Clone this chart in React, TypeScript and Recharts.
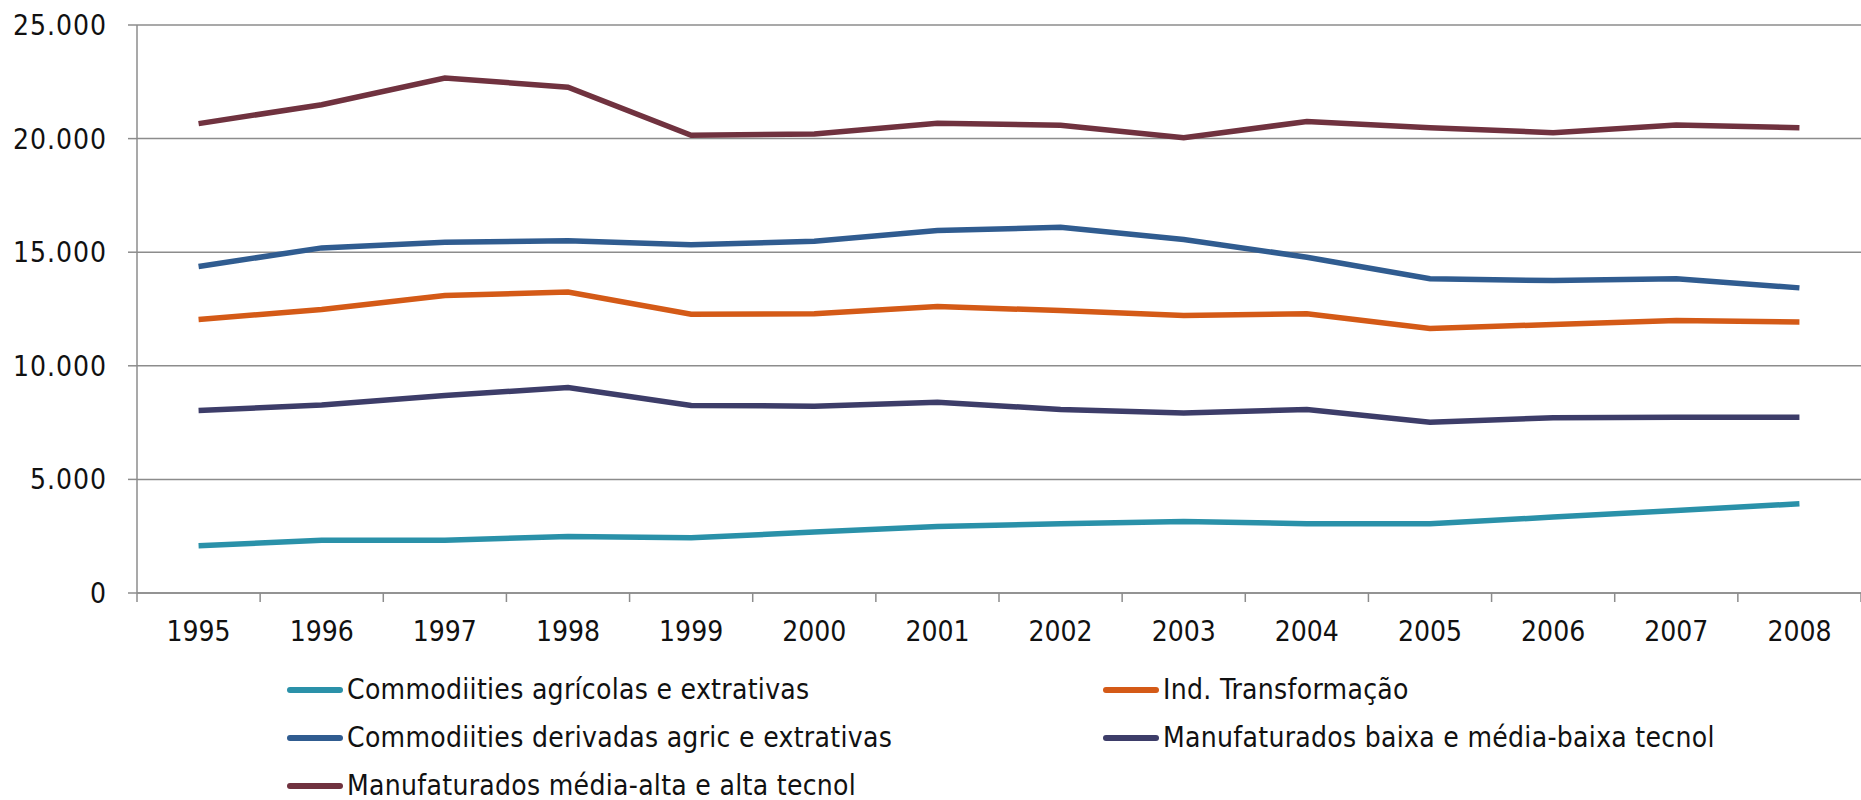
import { LineChart, Line, XAxis, YAxis, CartesianGrid } from 'recharts';

const years = [1995, 1996, 1997, 1998, 1999, 2000, 2001, 2002, 2003, 2004, 2005, 2006, 2007, 2008];

const agricolas = [2080, 2320, 2320, 2490, 2430, 2680, 2930, 3050, 3150, 3050, 3050, 3340, 3630, 3930];
const transformacao = [12040, 12480, 13090, 13250, 12270, 12290, 12610, 12430, 12210, 12290, 11640, 11820, 11990, 11930];
const derivadas = [14370, 15190, 15440, 15500, 15330, 15480, 15950, 16100, 15560, 14780, 13830, 13750, 13830, 13430];
const baixaTec = [8030, 8270, 8690, 9040, 8255, 8225, 8400, 8080, 7920, 8080, 7520, 7710, 7740, 7730];
const altaTec = [20660, 21490, 22670, 22260, 20150, 20200, 20680, 20590, 20040, 20750, 20480, 20260, 20600, 20480];

const yTicks = [0, 5000, 10000, 15000, 20000, 25000];

const series = [
  { key: 'agricolas', name: 'Commodiities agrícolas e extrativas', color: '#2a91a9', values: agricolas },
  { key: 'transformacao', name: 'Ind. Transformação', color: '#d45a17', values: transformacao },
  { key: 'derivadas', name: 'Commodiities derivadas agric e extrativas', color: '#305c90', values: derivadas },
  { key: 'baixaTec', name: 'Manufaturados baixa e média-baixa tecnol', color: '#3d3d69', values: baixaTec },
  { key: 'altaTec', name: 'Manufaturados média-alta e alta tecnol', color: '#70323f', values: altaTec },
];

const data = years.map((year, i) => {
  const row: Record<string, number> = { year };
  series.forEach((s) => {
    row[s.key] = s.values[i];
  });
  return row;
});

// year labels sit on category centres, tick marks on the boundaries between them
const xTicks = [1994.5, ...years.flatMap((y) => [y, y + 0.5])];

const FONT = '"DejaVu Sans Condensed", "DejaVu Sans", sans-serif';
const AXIS = '#8c8c8c';

const fmt = (v: number) => (v === 0 ? '0' : v.toLocaleString('de-DE'));

function YearTick(props: any) {
  const { x, y, payload } = props;
  const v = payload.value as number;
  if (v % 1 !== 0) {
    return <line x1={x} x2={x} y1={y} y2={y + 9} stroke={AXIS} strokeWidth={1.5} />;
  }
  return (
    <text x={x} y={y + 38} dy="0.35em" textAnchor="middle" fill="#111" fontSize={28} fontFamily={FONT}>
      {v}
    </text>
  );
}

export default function App() {
  return (
    <div style={{ position: 'absolute', left: 0, top: 0, width: 1861, height: 800, background: '#fff' }}>
      <LineChart width={1861} height={800} data={data} margin={{ top: 25, right: 0, bottom: 147, left: 0 }}>
        <CartesianGrid vertical={false} stroke={AXIS} strokeWidth={1.5} />
        <XAxis
          dataKey="year"
          type="number"
          domain={[1994.5, 2008.5]}
          ticks={xTicks}
          interval={0}
          height={60}
          axisLine={{ stroke: AXIS, strokeWidth: 1.5 }}
          tickLine={false}
          tickSize={0}
          tickMargin={0}
          tick={<YearTick />}
        />
        <YAxis
          domain={[0, 25000]}
          ticks={yTicks}
          width={137}
          interval={0}
          tickFormatter={fmt}
          axisLine={{ stroke: AXIS, strokeWidth: 1.5 }}
          tickLine={{ stroke: AXIS, strokeWidth: 1.5 }}
          tickSize={9}
          tickMargin={21}
          tick={{ fill: '#111', fontSize: 28, fontFamily: FONT, letterSpacing: 1 }}
        />
        {series.map((s) => (
          <Line
            key={s.key}
            dataKey={s.key}
            name={s.name}
            stroke={s.color}
            strokeWidth={5.5}
            dot={false}
            isAnimationActive={false}
          />
        ))}
      </LineChart>
      <div
        style={{
          position: 'absolute',
          left: 287,
          top: 671,
          display: 'grid',
          gridTemplateColumns: '816px auto',
          rowGap: 10,
          fontFamily: FONT,
          fontSize: 28,
          letterSpacing: 0.3,
          lineHeight: '38px',
          color: '#111',
        }}
      >
        {series.map((s) => (
          <div key={s.key} style={{ display: 'flex', alignItems: 'center', height: 38 }}>
            <span
              style={{ display: 'inline-block', width: 56, height: 6, borderRadius: 3, background: s.color, marginRight: 4 }}
            />
            <span>{s.name}</span>
          </div>
        ))}
      </div>
    </div>
  );
}
